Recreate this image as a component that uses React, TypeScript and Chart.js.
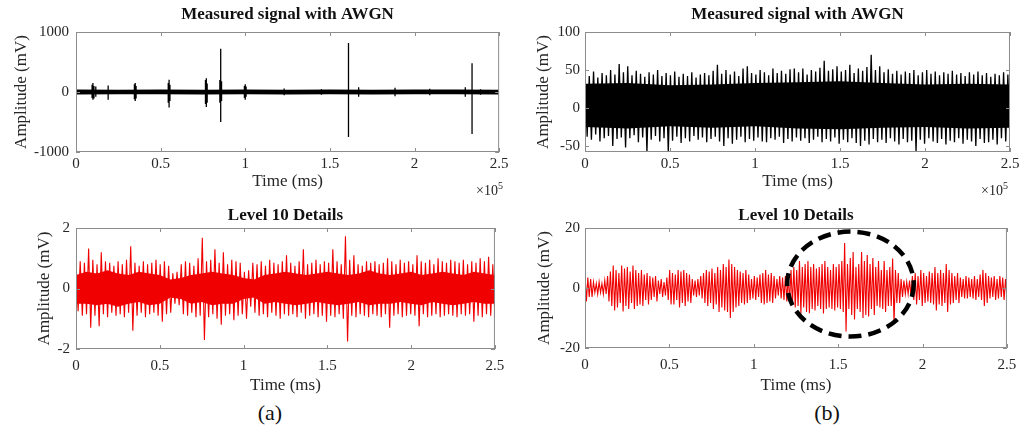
import React, { useEffect, useRef } from "react";
import { Chart, registerables } from "chart.js";
Chart.register(...registerables);

const FONT = "'Liberation Serif', 'Times New Roman', serif";
const TEXT = "#262626";
const RED = "rgb(240,0,0)";

// ---- shared axes ----
const xTicks = [0, 0.5, 1, 1.5, 2, 2.5];
const xTickLabels = ["0", "0.5", "1", "1.5", "2", "2.5"];
const X_MAX = 2.5;

// ---- (a) top: measured signal with AWGN ----
const awgnAYTicks = [-1000, 0, 1000];
const awgnAYLabels = ["-1000", "0", "1000"];
// discharge events: time (x10^5 ms), max and min amplitude (mV)
const awgnASpikeT = [0.095, 0.1, 0.106, 0.117, 0.19, 0.345, 0.35, 0.355, 0.545, 0.55, 0.555, 0.765, 0.77, 0.775, 0.85, 0.855, 0.86, 0.995, 1.0, 1.005, 1.23, 1.45, 1.61, 1.67, 1.885, 2.09, 2.3, 2.34, 2.39];
const awgnASpikeHi = [120, 150, 100, 90, 110, 130, 150, 100, 150, 205, 120, 200, 230, 140, 200, 720, 180, 100, 130, 90, 60, 45, 817, 80, 70, 55, 80, 480, 45];
const awgnASpikeLo = [-100, -130, -110, -80, -130, -120, -150, -110, -180, -260, -150, -200, -250, -180, -180, -500, -150, -100, -130, -80, -55, -45, -750, -80, -70, -55, -80, -700, -45];
// background noise band (11 points, every 0.25)
const awgnACoreHi = [40, 39, 41, 39, 40, 38, 40, 39, 41, 40, 39];
const awgnACoreLo = [-40, -39, -38, -40, -39, -41, -39, -40, -38, -39, -40];

// ---- (b) top: measured signal with AWGN, per-bin max / min (100 bins) ----
const awgnBYTicks = [-50, 0, 50, 100];
const awgnBYLabels = ["-50", "0", "50", "100"];
const awgnBHi = [
  45, 42, 48, 40, 46, 43, 50, 44, 58, 47,
  55, 43, 49, 45, 41, 47, 44, 50, 42, 46,
  43, 48, 41, 45, 42, 47, 40, 44, 46, 43,
  49, 57, 45, 50, 44, 48, 42, 52, 55, 46,
  44, 50, 47, 43, 52, 46, 49, 45, 51, 52,
  47, 52, 44, 50, 48, 53, 62, 49, 51, 55,
  48, 50, 57, 46, 52, 49, 54, 70, 50, 55,
  47, 51, 45, 49, 44, 48, 46, 50, 43, 47,
  50, 45, 48, 43, 47, 45, 49, 44, 46, 42,
  47, 44, 48, 43, 46, 41, 45, 43, 47, 44,
];
const awgnBLo = [
  -38, -42, -35, -44, -40, -37, -50, -41, -39, -52,
  -40, -36, -45, -39, -58, -42, -37, -44, -40, -58,
  -43, -38, -46, -40, -44, -37, -42, -39, -45, -41,
  -38, -44, -50, -40, -47, -42, -38, -45, -41, -43,
  -39, -44, -45, -40, -42, -38, -46, -41, -44, -39,
  -43, -40, -46, -42, -38, -45, -41, -44, -39, -47,
  -42, -45, -40, -46, -50, -43, -48, -41, -45, -42,
  -46, -40, -44, -48, -41, -45, -43, -57, -42, -47,
  -40, -44, -46, -41, -48, -43, -45, -40, -47, -42,
  -44, -50, -41, -46, -45, -42, -48, -40, -44, -43,
];
// dense core of the noise band (11 points, every 0.25)
const awgnBCoreHi = [32, 33, 30, 31, 33, 34, 35, 33, 31, 32, 31];
const awgnBCoreLo = [-25, -27, -24, -26, -24, -27, -28, -26, -25, -27, -26];

// ---- (a) bottom: level 10 details (100 bins) ----
const detAYTicks = [-2, 0, 2];
const detAYLabels = ["-2", "0", "2"];
const detAHi = [
  0.7, 0.9, 0.85, 1.32, 0.95, 0.8, 1.2, 0.9, 0.85, 0.75,
  0.9, 0.8, 0.95, 1.4, 0.85, 0.75, 0.9, 0.8, 0.85, 0.95,
  0.8, 0.9, 0.75, 0.5, 0.55, 0.8, 0.9, 0.85, 0.75, 1.0,
  1.68, 0.9, 0.95, 1.3, 0.85, 1.2, 0.8, 0.95, 0.9, 0.85,
  0.55, 0.6, 0.85, 0.8, 0.9, 0.75, 0.95, 0.85, 0.8, 0.9,
  1.1, 0.85, 0.75, 0.9, 1.3, 0.8, 0.85, 0.95, 0.8, 0.9,
  0.85, 1.3, 0.9, 0.8, 1.73, 0.95, 1.1, 0.8, 0.75, 0.9,
  0.85, 0.9, 0.8, 0.85, 1.0, 0.9, 0.8, 0.95, 0.85, 0.9,
  0.8, 1.1, 0.9, 0.85, 0.95, 0.8, 1.0, 0.9, 0.85, 0.95,
  0.9, 0.85, 0.95, 0.8, 0.9, 0.85, 1.0, 0.9, 1.05, 0.8,
];
const detALo = [
  -0.75, -0.9, -0.85, -1.3, -0.9, -1.25, -0.85, -0.95, -0.8, -0.9,
  -0.85, -0.95, -0.8, -1.4, -0.9, -0.8, -0.95, -0.85, -0.8, -0.9,
  -1.1, -0.85, -0.8, -0.5, -0.55, -0.85, -0.9, -0.8, -0.95, -0.9,
  -1.7, -0.95, -0.85, -1.0, -1.2, -0.9, -0.85, -1.05, -0.9, -0.85,
  -1.0, -0.6, -0.8, -0.9, -0.85, -0.95, -0.8, -0.9, -1.0, -0.85,
  -0.9, -0.85, -0.95, -0.8, -1.0, -0.9, -0.85, -0.95, -0.9, -1.1,
  -0.9, -0.95, -0.85, -1.0, -1.75, -0.9, -0.95, -0.85, -0.9, -0.95,
  -0.85, -0.9, -0.95, -0.85, -1.3, -0.9, -0.85, -0.95, -0.9, -0.85,
  -0.9, -1.25, -0.85, -0.95, -0.9, -0.85, -0.95, -0.9, -0.85, -0.9,
  -0.95, -0.85, -0.9, -0.85, -1.1, -0.9, -0.95, -0.85, -0.9, -0.95,
];
// dense core (41 points, every 0.0625)
const detACoreHi = [
  0.45, 0.55, 0.5, 0.6, 0.5, 0.45, 0.55, 0.5, 0.45, 0.3,
  0.35, 0.45, 0.5, 0.55, 0.5, 0.45, 0.35, 0.3, 0.45, 0.5,
  0.55, 0.5, 0.45, 0.5, 0.55, 0.5, 0.45, 0.5, 0.6, 0.5,
  0.45, 0.5, 0.55, 0.45, 0.5, 0.55, 0.5, 0.45, 0.55, 0.5, 0.45,
];
const detACoreLo = [
  -0.5, -0.5, -0.55, -0.5, -0.6, -0.5, -0.45, -0.55, -0.5, -0.3,
  -0.35, -0.5, -0.45, -0.55, -0.5, -0.5, -0.35, -0.3, -0.5, -0.45,
  -0.5, -0.55, -0.5, -0.45, -0.5, -0.55, -0.5, -0.45, -0.55, -0.5,
  -0.5, -0.45, -0.5, -0.55, -0.45, -0.5, -0.55, -0.5, -0.45, -0.5, -0.5,
];

// ---- (b) bottom: level 10 details (150 bins) ----
const detBYTicks = [-20, 0, 20];
const detBYLabels = ["-20", "0", "20"];
const detBHi = [
  4.5, 3.5, 3,
  2, 1.5, 2, 1.5, 2.5,
  4, 5.5, 7.5, 6, 5, 7.5, 6.5, 7, 5.5, 7.5, 6, 5, 6, 4.5, 5, 4, 3.5, 4,
  2.5, 3, 2, 3.5,
  6, 5, 4.5, 6, 5.5, 6, 5, 4.5,
  3, 2.5, 3, 4,
  5, 6, 5.5, 6.5, 5, 7, 6, 8, 7, 9.5, 8, 7, 6, 5.5, 5, 6, 4.5,
  3, 4, 3.5, 4.5, 5, 6, 4.5, 5, 4, 3, 4, 3.5, 4,
  4, 6, 7, 6, 9, 7, 8, 9, 7, 8, 6.5, 7, 8, 9, 7, 6, 8, 7,
  8, 9, 15, 8, 10, 12, 7, 8, 12, 9, 11, 8, 10, 7, 9, 6, 9, 6, 7, 9.8, 6, 5, 3, 2.5,
  2, 2.5, 4, 5, 4, 6, 5, 4, 5.5, 5, 7, 5, 6, 5, 8, 6, 5, 4, 5, 3.5,
  3, 4, 3.5, 3, 4, 3, 4.5, 6, 5, 4, 3.5, 4, 3, 4, 3.5, 3,
];
const detBLo = [
  -4.5, -3, -3,
  -1.5, -2, -1.5, -2, -2,
  -4.5, -6, -7.5, -6.5, -5, -7.8, -6, -7, -5, -7, -6, -5.5, -6, -4, -5.5, -4, -3, -4.5,
  -2, -3, -2.5, -4,
  -5.5, -5.5, -4, -6.5, -5, -6, -4.5, -5,
  -2.5, -3, -2.5, -3.5,
  -5, -6, -5, -7, -5.5, -8, -6.5, -7.5, -8, -10, -8, -6.5, -6, -5, -5.5, -5, -4,
  -3.5, -4, -3, -5, -5.5, -5, -4.5, -5, -3.5, -2.5, -3.5, -4, -4.5,
  -4.5, -5.5, -6.5, -6, -8.5, -6.5, -8, -8.4, -7, -7.5, -6, -7, -8.5, -7, -6.5, -7, -7.5, -6.5,
  -7, -8, -14.5, -7, -9, -10.5, -7, -8, -10, -9, -9.5, -7, -9, -6, -6.5, -7, -8, -6, -6, -12, -5, -5, -3, -2,
  -2, -2.5, -4, -5.5, -4, -6, -5, -4.5, -5, -5.5, -7.5, -5.5, -6, -5, -8, -5.5, -5, -4, -5, -3,
  -3.5, -3.5, -3, -3.5, -4, -3, -4, -6, -5, -3.5, -3, -4, -3.5, -3, -4, -3,
];
// dashed ellipse annotation (data units of panel b bottom)
const ellipseCenterX = 1.573;
const ellipseCenterY = 1.3;
const ellipseRadiusX = 0.375;
const ellipseRadiusY = 17.5;

// ---- helpers that turn the arrays into library points ----
function zigzag(hi: number[], lo: number[]) {
  const n = hi.length * 2 - 1;
  const pts: { x: number; y: number }[] = [];
  for (let i = 0; i < hi.length; i++) {
    pts.push({ x: ((2 * i) / n) * X_MAX, y: hi[i] });
    pts.push({ x: ((2 * i + 1) / n) * X_MAX, y: lo[i] });
  }
  return pts;
}
function band(vals: number[]) {
  return vals.map((v, i) => ({ x: (i / (vals.length - 1)) * X_MAX, y: v }));
}
function spikes(t: number[], hi: number[], lo: number[]) {
  const pts: { x: number; y: number | null }[] = [];
  t.forEach((x, i) => {
    pts.push({ x, y: hi[i] }, { x, y: lo[i] }, { x, y: null });
  });
  return pts;
}

const framePlugin = {
  id: "frame",
  afterDatasetsDraw(chart: any) {
    const { ctx, chartArea: a, scales } = chart;
    ctx.save();
    ctx.strokeStyle = "#8c8c8c";
    ctx.lineWidth = 1;
    ctx.strokeRect(a.left + 0.5, a.top + 0.5, a.right - a.left - 1, a.bottom - a.top - 1);
    const L = 4;
    ctx.beginPath();
    for (const t of scales.x.ticks) {
      const px = Math.round(scales.x.getPixelForValue(t.value)) + 0.5;
      ctx.moveTo(px, a.bottom);
      ctx.lineTo(px, a.bottom - L);
      ctx.moveTo(px, a.top);
      ctx.lineTo(px, a.top + L);
    }
    for (const t of scales.y.ticks) {
      const py = Math.round(scales.y.getPixelForValue(t.value)) + 0.5;
      ctx.moveTo(a.left, py);
      ctx.lineTo(a.left + L, py);
      ctx.moveTo(a.right, py);
      ctx.lineTo(a.right - L, py);
    }
    ctx.stroke();
    ctx.restore();
  },
};

const ellipsePlugin = {
  id: "ellipseMark",
  afterDatasetsDraw(chart: any, _args: any, opts: any) {
    if (!opts || !opts.show) return;
    const { ctx, scales } = chart;
    const cx = scales.x.getPixelForValue(opts.cx);
    const cy = scales.y.getPixelForValue(opts.cy);
    const rx = Math.abs(scales.x.getPixelForValue(opts.cx + opts.rx) - cx);
    const ry = Math.abs(scales.y.getPixelForValue(opts.cy + opts.ry) - cy);
    ctx.save();
    ctx.beginPath();
    ctx.ellipse(cx, cy, rx, ry, 0, 0, Math.PI * 2);
    ctx.setLineDash([13, 7]);
    ctx.lineWidth = 4.5;
    ctx.strokeStyle = "#000";
    ctx.stroke();
    ctx.restore();
  },
};

type Panel = {
  left: number; top: number; width: number; height: number;
  title: string; datasets: any[];
  yMin: number; yMax: number; yTicks: number[]; yLabels: string[];
  yWidth: number; xHeight: number; padRight: number;
  titlePadTop: number; titlePadBottom: number;
  yTitlePad: number; yTickPad: number; xTickPad: number; xTitlePad: number;
  ellipse?: boolean;
};

const lineDs = (data: any, color: string, width = 1.1) => ({
  data, borderColor: color, borderWidth: width, pointRadius: 0, tension: 0, fill: false, spanGaps: false,
});
const coreDs = (lo: number[], hi: number[], color: string) => [
  { data: band(lo), borderWidth: 0, pointRadius: 0, fill: false, borderColor: color },
  { data: band(hi), borderWidth: 0, pointRadius: 0, fill: "-1", backgroundColor: color, borderColor: color },
];

const panels: Panel[] = [
  {
    left: 0, top: 0, width: 512, height: 200, title: "Measured signal with AWGN",
    datasets: [...coreDs(awgnACoreLo, awgnACoreHi, "#000"), lineDs(spikes(awgnASpikeT, awgnASpikeHi, awgnASpikeLo), "#000", 1.3)],
    yMin: -1000, yMax: 1000, yTicks: awgnAYTicks, yLabels: awgnAYLabels,
    yWidth: 76, xHeight: 48, padRight: 9, titlePadTop: 4.8, titlePadBottom: 6.8,
    yTitlePad: 11.8, yTickPad: 7, xTickPad: 3.5, xTitlePad: 8.1,
  },
  {
    left: 512, top: 0, width: 512, height: 200, title: "Measured signal with AWGN",
    datasets: [...coreDs(awgnBCoreLo, awgnBCoreHi, "#000"), lineDs(zigzag(awgnBHi, awgnBLo), "#000", 1.3)],
    yMin: -58, yMax: 100, yTicks: awgnBYTicks, yLabels: awgnBYLabels,
    yWidth: 73, xHeight: 48, padRight: 14, titlePadTop: 4.8, titlePadBottom: 6.8,
    yTitlePad: 21.8, yTickPad: 5, xTickPad: 3.5, xTitlePad: 8.1,
  },
  {
    left: 0, top: 200, width: 512, height: 200, title: "Level 10 Details",
    datasets: [...coreDs(detACoreLo, detACoreHi, RED), lineDs(zigzag(detAHi, detALo), RED, 1.1)],
    yMin: -2, yMax: 2, yTicks: detAYTicks, yLabels: detAYLabels,
    yWidth: 76, xHeight: 51, padRight: 9, titlePadTop: 5.8, titlePadBottom: 1.8,
    yTitlePad: 34.8, yTickPad: 6, xTickPad: 7.7, xTitlePad: 3.8,
  },
  {
    left: 512, top: 200, width: 512, height: 200, title: "Level 10 Details",
    datasets: [lineDs(zigzag(detBHi, detBLo), RED, 1.1)],
    yMin: -20, yMax: 20, yTicks: detBYTicks, yLabels: detBYLabels,
    yWidth: 73, xHeight: 52, padRight: 14, titlePadTop: 5.8, titlePadBottom: 1.8,
    yTitlePad: 22.8, yTickPad: 5, xTickPad: 7.7, xTitlePad: 3.8, ellipse: true,
  },
];

function makeConfig(p: Panel): any {
  return {
    type: "line",
    data: { datasets: p.datasets },
    plugins: [framePlugin, ellipsePlugin],
    options: {
      animation: false,
      responsive: false,
      devicePixelRatio: 1,
      layout: { padding: { left: 0, right: p.padRight, top: 0, bottom: 0 } },
      plugins: {
        legend: { display: false },
        tooltip: { enabled: false },
        title: {
          display: true, text: p.title, fullSize: false, color: "#111",
          font: { family: FONT, size: 17, weight: "bold", lineHeight: 1.2 },
          padding: { top: p.titlePadTop, bottom: p.titlePadBottom },
        },
        ellipseMark: {
          show: !!p.ellipse, cx: ellipseCenterX, cy: ellipseCenterY, rx: ellipseRadiusX, ry: ellipseRadiusY,
        },
      },
      scales: {
        x: {
          type: "linear", min: 0, max: X_MAX,
          grid: { display: false, drawTicks: false },
          border: { display: false },
          afterBuildTicks: (ax: any) => { ax.ticks = xTicks.map((v) => ({ value: v })); },
          afterFit: (ax: any) => { ax.height = p.xHeight; },
          ticks: {
            autoSkip: false, maxRotation: 0, minRotation: 0, padding: p.xTickPad, color: TEXT,
            font: { family: FONT, size: 15, lineHeight: 1.2 },
            callback: (_v: any, i: number) => xTickLabels[i],
          },
          title: {
            display: true, text: "Time (ms)", color: TEXT,
            font: { family: FONT, size: 17, lineHeight: 1.2 },
            padding: { top: 0, bottom: p.xTitlePad },
          },
        },
        y: {
          type: "linear", min: p.yMin, max: p.yMax,
          grid: { display: false, drawTicks: false },
          border: { display: false },
          afterBuildTicks: (ax: any) => { ax.ticks = p.yTicks.map((v) => ({ value: v })); },
          afterFit: (ax: any) => { ax.width = p.yWidth; },
          ticks: {
            autoSkip: false, padding: p.yTickPad, color: TEXT,
            font: { family: FONT, size: 15, lineHeight: 1.2 },
            callback: (_v: any, i: number) => p.yLabels[i],
          },
          title: {
            display: true, text: "Amplitude (mV)", color: TEXT,
            font: { family: FONT, size: 17, lineHeight: 1.2 },
            padding: { top: p.yTitlePad, bottom: 0 },
          },
        },
      },
    },
  };
}

export default function App() {
  const refs = useRef<(HTMLCanvasElement | null)[]>([]);
  useEffect(() => {
    const charts = panels.map((p, i) => new Chart(refs.current[i] as HTMLCanvasElement, makeConfig(p)));
    return () => charts.forEach((c) => c.destroy());
  }, []);

  const expStyle = (left: number): React.CSSProperties => ({
    position: "absolute", left, top: 184, fontFamily: FONT, fontSize: 14, lineHeight: "14px", color: TEXT, whiteSpace: "nowrap",
  });
  const capStyle = (cx: number): React.CSSProperties => ({
    position: "absolute", left: cx - 50, width: 100, top: 400, textAlign: "center",
    fontFamily: FONT, fontSize: 22, lineHeight: "26px", color: "#111",
  });

  return (
    <div style={{ position: "absolute", left: 0, top: 0, width: 1024, height: 428, background: "#fff", overflow: "hidden" }}>
      {panels.map((p, i) => (
        <canvas
          key={i}
          ref={(el) => { refs.current[i] = el; }}
          width={p.width}
          height={p.height}
          style={{ position: "absolute", left: p.left, top: p.top, width: p.width, height: p.height }}
        />
      ))}
      <div style={expStyle(476)}>×10<sup style={{ fontSize: 10, verticalAlign: "top", position: "relative", top: -5 }}>5</sup></div>
      <div style={expStyle(981)}>×10<sup style={{ fontSize: 10, verticalAlign: "top", position: "relative", top: -5 }}>5</sup></div>
      <div style={capStyle(270)}>(a)</div>
      <div style={capStyle(827)}>(b)</div>
    </div>
  );
}
